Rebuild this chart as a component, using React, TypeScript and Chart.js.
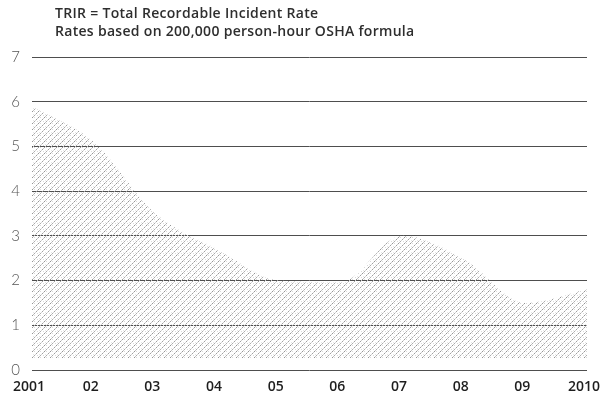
import React, { useEffect, useRef } from "react";
import { Chart, registerables } from "chart.js";

Chart.register(...registerables);

const years = ["2001", "02", "03", "04", "05", "06", "07", "08", "09", "2010"];
const trirValues = [5.9, 5.1, 3.5, 2.7, 2.0, 1.96, 3.0, 2.48, 1.5, 1.8];
const yTicks = [0, 1, 2, 3, 4, 5, 6, 7];
const headerLines = [
  "TRIR = Total Recordable Incident Rate",
  "Rates based on 200,000 person-hour OSHA formula",
];
const fillBase = 0.27;

function makePattern(): CanvasPattern | string {
  const c = document.createElement("canvas");
  c.width = 6;
  c.height = 6;
  const g = c.getContext("2d");
  if (!g) return "#ddd";
  g.clearRect(0, 0, 6, 6);
  const shades = ["#a0a0a0", "#cacaca", "#959595", "#c2c2c2", "#acacac", "#d4d4d4"];
  for (let i = 0; i < 6; i++) {
    g.fillStyle = shades[i];
    g.fillRect(i, 5 - i, 1, 1);
  }
  g.fillStyle = "#dadada";
  g.fillRect(1, 1, 1, 1);
  g.fillRect(4, 3, 1, 1);
  g.fillStyle = "#e6e6e6";
  g.fillRect(3, 0, 1, 1);
  const p = g.createPattern(c, "repeat");
  return p || "#ddd";
}

const headerPlugin = {
  id: "headerText",
  afterDraw(chart: any) {
    const ctx = chart.ctx as CanvasRenderingContext2D;
    ctx.save();
    ctx.fillStyle = "#2e2e2e";
    ctx.font = "600 14px 'Open Sans'";
    (ctx as any).letterSpacing = "0.3px";
    ctx.textAlign = "left";
    ctx.textBaseline = "alphabetic";
    ctx.fillText(headerLines[0], 55, 18);
    ctx.fillText(headerLines[1], 55, 36);
    ctx.restore();
  },
};

export default function App() {
  const ref = useRef<HTMLCanvasElement | null>(null);
  useEffect(() => {
    if (!ref.current) return;
    const chart = new Chart(ref.current, {
      type: "line",
      data: {
        labels: years,
        datasets: [
          {
            data: trirValues,
            backgroundColor: makePattern() as any,
            borderWidth: 0,
            pointRadius: 0,
            fill: { value: fillBase },
            cubicInterpolationMode: "monotone",
          },
        ],
      },
      options: {
        animation: false,
        responsive: true,
        maintainAspectRatio: false,
        layout: { padding: { top: 57, right: 13, bottom: 0, left: 0 } },
        plugins: {
          legend: { display: false },
          tooltip: { enabled: false },
          title: { display: false },
        },
        scales: {
          x: {
            grid: { display: false, drawTicks: false },
            border: { display: false },
            ticks: {
              color: "#1e1e1e",
              font: { family: "'Open Sans'", size: 14, weight: 600 },
              padding: 9,
              labelOffset: -3,
              maxRotation: 0,
              autoSkip: false,
            },
            afterFit(scale: any) {
              scale.height = 34;
              scale.paddingLeft = 0;
              scale.paddingRight = 0;
            },
          },
          y: {
            min: 0,
            max: 7,
            afterBuildTicks(scale: any) {
              scale.ticks = yTicks.map((v) => ({ value: v }));
            },
            grid: { color: "#4e4e4e", lineWidth: 1, drawTicks: false },
            border: { display: false },
            ticks: {
              color: "#555",
              font: { family: "Lato", size: 15, weight: 300 },
              padding: 12,
            },
            afterFit(scale: any) {
              scale.width = 32;
            },
          },
        },
      },
      plugins: [headerPlugin],
    });
    return () => chart.destroy();
  }, []);
  return (
    <div style={{ position: "absolute", left: 0, top: 0, width: 600, height: 404, background: "#fff" }}>
      <canvas ref={ref} />
    </div>
  );
}
